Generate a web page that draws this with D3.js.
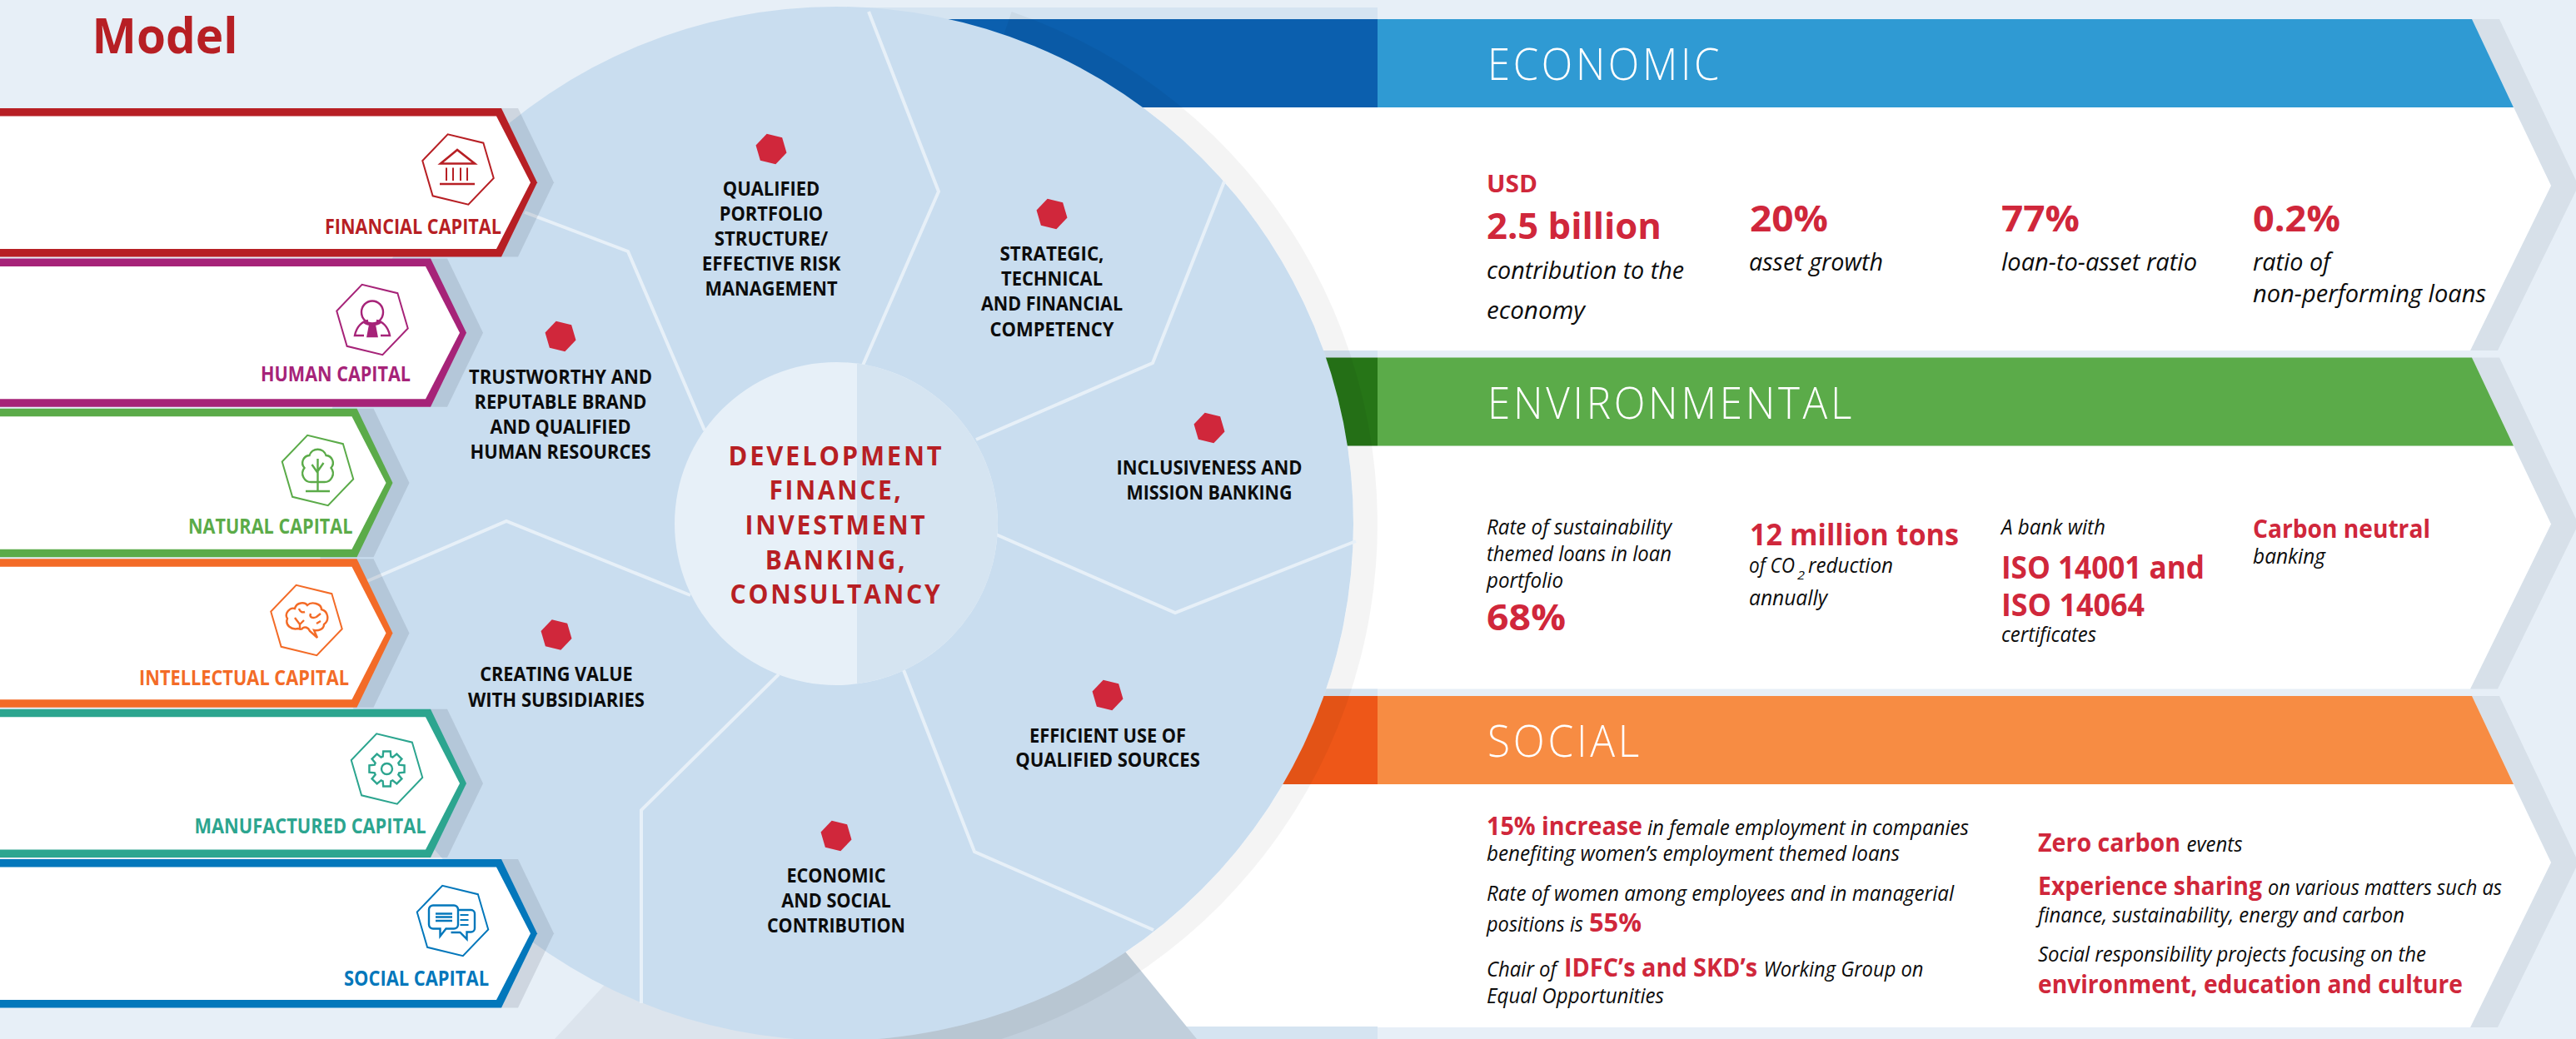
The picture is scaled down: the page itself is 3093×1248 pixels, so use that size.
<!DOCTYPE html>
<html>
<head>
<meta charset="utf-8">
<script src="https://cdn.jsdelivr.net/npm/d3@7"></script>
<style>
html, body { margin: 0; padding: 0; background: #e7eff7; }
svg { display: block; }
text { font-family: "Open Sans", "Noto Sans", sans-serif; }
</style>
</head>
<body>
<div id="chart"></div>
<script>
// texts
const title = "Model";
const capitals = ["FINANCIAL CAPITAL", "HUMAN CAPITAL", "NATURAL CAPITAL", "INTELLECTUAL CAPITAL", "MANUFACTURED CAPITAL", "SOCIAL CAPITAL"];
const capitalIcons = ["bank", "person", "tree", "brain", "gear", "speech"];
const pillars = ["ECONOMIC", "ENVIRONMENTAL", "SOCIAL"];
const coreLines = ["DEVELOPMENT", "FINANCE,", "INVESTMENT", "BANKING,", "CONSULTANCY"];
const sectors = [
    ["QUALIFIED", "PORTFOLIO", "STRUCTURE/", "EFFECTIVE RISK", "MANAGEMENT"],
    ["STRATEGIC,", "TECHNICAL", "AND FINANCIAL", "COMPETENCY"],
    ["INCLUSIVENESS AND", "MISSION BANKING"],
    ["EFFICIENT USE OF", "QUALIFIED SOURCES"],
    ["ECONOMIC", "AND SOCIAL", "CONTRIBUTION"],
    ["CREATING VALUE", "WITH SUBSIDIARIES"],
    ["TRUSTWORTHY AND", "REPUTABLE BRAND", "AND QUALIFIED", "HUMAN RESOURCES"]
];
const economicFigures = ["USD", "2.5 billion", "20%", "77%", "0.2%"];
const economicNotes = ["contribution to the", "economy", "asset growth", "loan-to-asset ratio", "ratio of", "non-performing loans"];
const environmentFigures = ["68%", "12 million tons", "ISO 14001 and", "ISO 14064", "Carbon neutral"];
const environmentNotes = ["Rate of sustainability", "themed loans in loan", "portfolio", "of CO", "2", "reduction", "annually", "A bank with", "certificates", "banking"];
const socialFigures = ["15% increase", "55%", "IDFC\u2019s and SKD\u2019s", "Zero carbon", "Experience sharing", "environment, education and culture"];
const socialNotes = ["in female employment in companies", "benefiting women\u2019s employment themed loans",
    "Rate of women among employees and in managerial", "positions is", "Chair of", "Working Group on", "Equal Opportunities",
    "events", "on various matters such as", "finance, sustainability, energy and carbon", "Social responsibility projects focusing on the"];

// colours
const capitalColors = ["#b71f24", "#a62378", "#5bab49", "#f36b27", "#2ca58f", "#0377bb"];
const pillarLight = ["#2f9ad3", "#5bab49", "#f78c43"];
const pillarDark = ["#0b5fae", "#267517", "#ee5718"];
const red = "#d0273b", darkRed = "#b71f24", ink = "#0c0c0c";

const width = 3093, height = 1248;
const cx = 1004, cy = 629, outerR = 621, ringR = 650, coreR = 194;

const svg = d3.select("#chart").append("svg")
    .attr("width", width)
    .attr("height", height);

svg.append("rect").attr("width", width).attr("height", height).attr("fill", "#e7eff7");

// row scales
const capitalY = d3.scaleBand().domain(capitals).range([130, 1212.5]);
const capitalShoulder = d3.scaleOrdinal().domain(capitals).range([602, 517, 428.5, 428.5, 517, 602]);
const pillarY = d3.scalePoint().domain(pillars).range([23, 836]);

const line = d3.line();

// one text run, squeezed to the width it has in the reference
function put(g, str, x, y, size, w, opts) {
    opts = opts || {};
    const t = g.append("text")
        .attr("x", x)
        .attr("y", y)
        .attr("font-size", size)
        .attr("font-weight", opts.weight || 400)
        .attr("font-style", opts.italic ? "italic" : "normal")
        .attr("fill", opts.fill || ink)
        .text(str);
    if (opts.spacing) t.attr("letter-spacing", opts.spacing);
    if (w) t.attr("textLength", w).attr("lengthAdjust", "spacingAndGlyphs");
    return t;
}
function figure(g, str, x, y, size, w) { put(g, str, x, y, size, w, {weight: 700, fill: red}); }
function note(g, str, x, y, w, size) { put(g, str, x, y, size || 26, w, {italic: true}); }

// right hand panels
const panels = svg.append("g");
pillars.forEach(function(p, i) {
    const top = pillarY(p);
    const g = panels.append("g");
    const body = [[1100, top + 106], [3018, top + 106], [3063, top + 200], [2966, top + 398], [1100, top + 398]];
    // chevron shadow
    g.append("path")
        .attr("d", line([[2968 + 33, top], [3063 + 33, top + 200], [2966 + 33, top + 398], [2966, top + 398], [3063, top + 200], [2968, top]]) + "Z")
        .attr("fill", "#d7e0e9");
    // thin band above the header
    g.append("rect").attr("x", 1000).attr("y", top - (i ? 8.5 : 14)).attr("width", 654).attr("height", i ? 8.5 : 14).attr("fill", "#d5e4f1");
    g.append("path").attr("d", line(body) + "Z").attr("fill", "#fff");
    g.append("path")
        .attr("d", line([[1654, top], [2968, top], [3018, top + 106], [1654, top + 106]]) + "Z")
        .attr("fill", pillarLight[i]);
    g.append("rect").attr("x", 1000).attr("y", top).attr("width", 654).attr("height", 106).attr("fill", pillarDark[i]);
});
panels.append("rect").attr("x", 1000).attr("y", 1233).attr("width", 654).attr("height", 15).attr("fill", "#d5e4f1");

// grey base under the circle
svg.append("path").attr("d", line([[666, 1248], [724, 1185], [1004, 1000], [1004, 1248]]) + "Z").attr("fill", "#dce4ed");
svg.append("path").attr("d", line([[1004, 1248], [1004, 1000], [1351, 1143], [1437, 1248]]) + "Z").attr("fill", "#c1cfdc");

// soft ring, then the big circle
svg.append("path")
    .attr("transform", `translate(${cx},${cy})`)
    .attr("d", d3.arc().innerRadius(outerR).outerRadius(ringR).startAngle(0.33).endAngle(Math.PI)())
    .attr("fill", "#000")
    .attr("fill-opacity", 0.045);
svg.append("circle").attr("cx", cx).attr("cy", cy).attr("r", outerR).attr("fill", "#c9ddef");

// white dividers between the sectors
const dividers = [
    [[1043, 14], [1127, 230], [1035, 441]],
    [[1470, 218], [1384, 436], [1172, 528]],
    [[1196, 642], [1411, 736], [1628, 650]],
    [[1085, 805], [1170, 1023], [1385, 1117]],
    [[935, 810], [770, 973], [770, 1205]],
    [[441, 698], [608, 626], [829, 715]],
    [[630, 255], [754, 302], [846, 517]]
];
svg.append("g").selectAll("path")
    .data(dividers)
    .join("path")
    .attr("d", d => line(d))
    .attr("fill", "none")
    .attr("stroke", "#e7f0f8")
    .attr("stroke-width", 4);

// centre circle, two tones
svg.append("circle").attr("cx", cx).attr("cy", cy).attr("r", coreR).attr("fill", "#e7f0f8");
svg.append("path")
    .attr("transform", `translate(${cx},${cy})`)
    .attr("d", `M25 ${-Math.sqrt(coreR * coreR - 625)}A${coreR} ${coreR} 0 0 1 25 ${Math.sqrt(coreR * coreR - 625)}Z`)
    .attr("fill", "#d5e4f1");

const coreBase = [559, 600, 642, 684, 725];
const coreWidth = [259, 161, 219, 170.5, 255];
coreLines.forEach(function(s, i) {
    put(svg, s, cx - coreWidth[i] / 2, coreBase[i], 33, coreWidth[i], {weight: 700, fill: darkRed, spacing: 3});
});

// hexagons are one rotated shape in all sizes
function hexPath(r) {
    return d3.lineRadial().curve(d3.curveLinearClosed)(d3.range(6).map(i => [(43.7 + i * 60) * Math.PI / 180, r]));
}

// sector markers and labels
const sectorCx = [926, 1263, 1452, 1330, 1004, 668, 673];
const sectorDotY = [179, 257, 514, 835, 1004, 762.5, 404];
const sectorBase = [
    [235, 265, 295, 325, 355],
    [313, 343, 373, 404],
    [570, 600],
    [891.5, 921],
    [1060, 1090, 1119.5],
    [818, 849],
    [460.5, 491, 521, 551]
];
const sectorWidth = [
    [116.5, 124.5, 136.5, 166.5, 159],
    [125, 122, 170, 149],
    [223, 199],
    [188, 221.5],
    [119, 131.5, 166],
    [183.5, 212],
    [220, 207, 169, 217]
];
sectors.forEach(function(linesOf, i) {
    svg.append("path")
        .attr("transform", `translate(${sectorCx[i]},${sectorDotY[i]})`)
        .attr("d", hexPath(19))
        .attr("fill", red);
    linesOf.forEach(function(s, j) {
        put(svg, s, sectorCx[i] - sectorWidth[i][j] / 2, sectorBase[i][j], 24, sectorWidth[i][j], {weight: 700});
    });
});

// capital icons, drawn around the centre of their hexagon
const icons = {
    bank: function(g) {
        g.append("path").attr("d", "M-1 -23.5L-21 -7H20Z").attr("stroke-width", 2.6);
        g.append("path").attr("d", "M-14 -2V13.5M-6 -2V13.5M3 -2V13.5M11 -2V13.5").attr("stroke-width", 2);
        g.append("path").attr("d", "M-22 17.5H20").attr("stroke-width", 2.6);
    },
    person: function(g) {
        g.append("ellipse").attr("cy", -9).attr("rx", 13).attr("ry", 13.5);
        g.append("path").attr("d", "M-10 19H-21C-19 8 -12 2 -5 1M10 19H21C19 8 12 2 5 1M-10 3C-5 7 5 7 10 3");
        g.append("path").attr("d", "M-3 7H3L5.5 20H-5.5Z").attr("fill", "currentColor");
    },
    tree: function(g) {
        g.append("path").attr("d", "M-7 14A10.5 10.5 0 0 1 -16 -3A9 9 0 0 1 -10 -18A10.5 10.5 0 0 1 10 -18A9 9 0 0 1 16 -3A10.5 10.5 0 0 1 7 14Z");
        g.append("path").attr("d", "M0 -14V25M-14.5 25H14.5M-7 -7L0 3M7 -9L0 1");
    },
    brain: function(g) {
        g.append("path").attr("d", "M-10 10C-18 12 -26 6 -23 -2C-27 -8 -20 -16 -14 -14C-12 -22 -2 -22 1 -18C6 -23 18 -20 18 -13C26 -11 28 0 21 5C21 11 14 13 9 12L13 21L4 13C2 8 -2 8 -4 9C-6 12 -8 11 -10 10Z");
        g.append("path").attr("d", "M-14 -3L-8 5L-3 0M-8 5V10M-9 -14C-8 -10 -5 -9 -2 -10M5 -8C3 -3 8 -2 12 -4L17 -8M12 4L17 1");
    },
    gear: function(g) {
        const pts = d3.range(8).flatMap(function(i) {
            const a = i * Math.PI / 4;
            return [[a - 0.32, 15.5], [a - 0.2, 21.5], [a + 0.2, 21.5], [a + 0.32, 15.5]];
        });
        g.append("path").attr("d", d3.lineRadial().curve(d3.curveLinearClosed)(pts));
        g.append("circle").attr("r", 6.5);
    },
    speech: function(g) {
        g.append("path").attr("d", "M6.5 -4V4.5A5 5 0 0 1 1.5 9.5H-8L-15 18.5L-15 9.5H-23.5A5 5 0 0 1 -28.5 4.5V-13.5A5 5 0 0 1 -23.5 -18.5H1.5A5 5 0 0 1 6.5 -13.5Z");
        g.append("path").attr("d", "M6.5 -13H22A4.5 4.5 0 0 1 26.5 -8.5V9A4.5 4.5 0 0 1 22 13.5H17L17 22L9 14H-2");
        g.append("path").attr("d", "M-20.5 -8.5H-0.5M-20.5 -4.5H-0.5M-20.5 0H-0.5").attr("stroke-width", 2.4);
        g.append("path").attr("d", "M9 -7H19M9 -1H19M9 5H19").attr("stroke-width", 1.8);
    }
};

// left arrows
const iconCx = [550, 447, 381.5, 368, 464.5, 543.5];
const iconCy = [203.5, 384, 565, 745, 923.5, 1106];
const labelRight = [602, 493, 423.5, 419, 511.5, 587];
const labelWidth = [212, 180, 197.5, 252, 278, 174];
const labelBase = [280.5, 457.5, 640.5, 823, 1001, 1184];
const arrows = svg.append("g");
capitals.forEach(function(c, i) {
    const top = capitalY(c), h = capitalY.bandwidth() - 2;
    const sx = capitalShoulder(c);
    const tip = sx + 43, mid = top + h / 2;
    const g = arrows.append("g");
    // shadow to the right of the arrow
    g.append("path")
        .attr("d", line([[sx, top], [sx + 20, top], [tip + 20, mid], [sx + 20, top + h], [sx, top + h]]) + "Z")
        .attr("fill", "#4a5a6a")
        .attr("fill-opacity", 0.16);
    g.append("path")
        .attr("d", line([[-10, top], [sx, top], [tip, mid], [sx, top + h], [-10, top + h]]) + "Z")
        .attr("fill", capitalColors[i]);
    g.append("path")
        .attr("d", line([[-10, top + 9.5], [sx - 6, top + 9.5], [tip - 8, mid], [sx - 6, top + h - 9.5], [-10, top + h - 9.5]]) + "Z")
        .attr("fill", "#fff");
    const ic = g.append("g")
        .attr("transform", `translate(${iconCx[i]},${iconCy[i]})`)
        .style("color", capitalColors[i])
        .attr("fill", "none")
        .attr("stroke", capitalColors[i])
        .attr("stroke-width", 2.4)
        .attr("stroke-linejoin", "miter");
    ic.append("path").attr("d", hexPath(44)).attr("stroke-width", 2);
    icons[capitalIcons[i]](ic);
    put(g, c, labelRight[i] - labelWidth[i], labelBase[i], 25, labelWidth[i], {weight: 700, fill: capitalColors[i]});
});

// title
put(svg, title, 110.5, 64, 59.5, 175, {weight: 700, fill: darkRed});

// pillar headings
const headingBase = [96, 502.5, 909];
const headingWidth = [282, 441, 186];
pillars.forEach(function(p, i) {
    put(svg, p, 1786, headingBase[i], 53, headingWidth[i], {weight: 300, fill: "#fff", spacing: 4});
});

// economic panel
figure(svg, economicFigures[0], 1785, 230.5, 29, 61);
figure(svg, economicFigures[1], 1785, 287, 43, 210);
figure(svg, economicFigures[2], 2101, 278, 43, 94);
figure(svg, economicFigures[3], 2403, 278, 43, 94);
figure(svg, economicFigures[4], 2705, 278, 43, 105);
note(svg, economicNotes[0], 1785, 335, 237, 30);
note(svg, economicNotes[1], 1785, 383, 118, 30);
note(svg, economicNotes[2], 2100, 325, 161, 30);
note(svg, economicNotes[3], 2403, 325, 235, 30);
note(svg, economicNotes[4], 2705, 325, 93, 30);
note(svg, economicNotes[5], 2705, 363, 280, 30);

// environmental panel
note(svg, environmentNotes[0], 1785, 642, 222);
note(svg, environmentNotes[1], 1785, 674, 222);
note(svg, environmentNotes[2], 1785, 705.5, 92);
figure(svg, environmentFigures[0], 1785, 756.5, 43, 95);
figure(svg, environmentFigures[1], 2101, 655, 35, 251);
note(svg, environmentNotes[3], 2100, 687.5, 55);
note(svg, environmentNotes[4], 2158, 696, 9, 15);
note(svg, environmentNotes[5], 2171, 687.5, 102);
note(svg, environmentNotes[6], 2100, 726.5, 94);
note(svg, environmentNotes[7], 2403, 642, 125);
figure(svg, environmentFigures[2], 2403, 695, 37, 244);
figure(svg, environmentFigures[3], 2403, 740, 37, 172);
note(svg, environmentNotes[8], 2403, 771, 114);
figure(svg, environmentFigures[4], 2705, 646, 30, 213);
note(svg, environmentNotes[9], 2705, 677, 87);

// social panel, left column
figure(svg, socialFigures[0], 1785, 1002.5, 30, 187);
note(svg, socialNotes[0], 1978, 1002.5, 386);
note(svg, socialNotes[1], 1785, 1034, 496);
note(svg, socialNotes[2], 1785, 1081.5, 561);
note(svg, socialNotes[3], 1785, 1119, 116);
figure(svg, socialFigures[1], 1908, 1119, 30, 63);
note(svg, socialNotes[4], 1785, 1173, 84);
figure(svg, socialFigures[2], 1878, 1173, 30, 232);
note(svg, socialNotes[5], 2117.5, 1173, 192);
note(svg, socialNotes[6], 1785, 1205, 213);

// social panel, right column
figure(svg, socialFigures[3], 2447, 1022.5, 30, 171);
note(svg, socialNotes[7], 2625.5, 1022.5, 67);
figure(svg, socialFigures[4], 2447, 1075, 30, 269);
note(svg, socialNotes[8], 2723, 1075, 281);
note(svg, socialNotes[9], 2447, 1107.5, 440);
note(svg, socialNotes[10], 2447, 1155, 466);
figure(svg, socialFigures[5], 2447, 1193, 30, 510);
</script>
</body>
</html>
